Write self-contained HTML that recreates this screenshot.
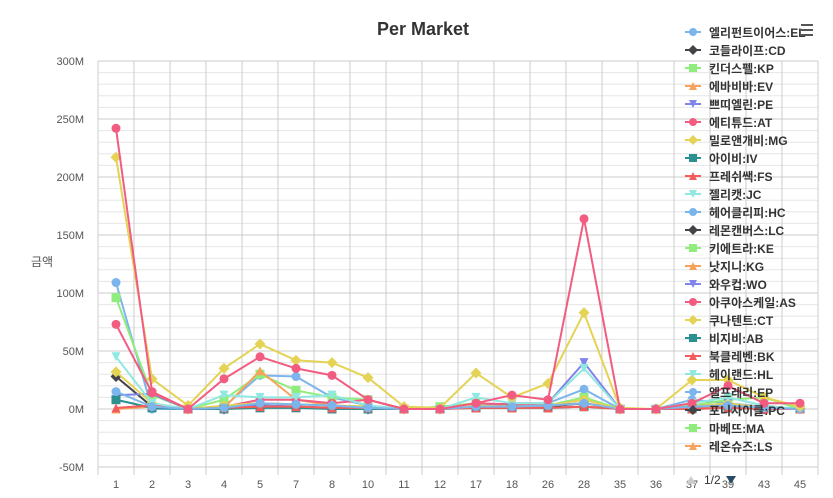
<!DOCTYPE html>
<html><head><meta charset="utf-8">
<style>
html,body{margin:0;padding:0;background:#fff;}
body{width:833px;height:493px;overflow:hidden;font-family:"Liberation Sans","Noto Sans CJK KR",sans-serif;}
</style></head>
<body>
<svg id="chart" width="833" height="493" xmlns="http://www.w3.org/2000/svg" font-family="Liberation Sans, Noto Sans CJK KR, sans-serif">
<text x="423" y="35" text-anchor="middle" font-size="18" font-weight="bold" fill="#333">Per Market</text>
<text x="42" y="266" text-anchor="middle" font-size="12" fill="#555">금액</text>
<g id="grid"></g><g id="series"></g><g id="legend"></g>
<g><rect x="801" y="24" width="12" height="2" fill="#555"/><rect x="801" y="29" width="12" height="2" fill="#555"/><rect x="801" y="34" width="12" height="2" fill="#555"/></g>
<g>
<path d="M686 484 L691 476 L696 484 Z" fill="#ccc"/>
<text x="704" y="484" font-size="12" fill="#333">1/2</text>
<path d="M726 476 L736 476 L731 484 Z" fill="#2a4b66"/>
</g>
</svg>
<script>
const categories=["1","2","3","4","5","7","8","10","11","12","17","18","26","28","35","36","37","39","43","45"];
const yTicks=[300,250,200,150,100,50,0,-50];
const legendNames=["엘리펀트이어스:EL","코들라이프:CD","킨더스펠:KP","에바비바:EV","쁘띠엘린:PE","에티튜드:AT","밀로앤개비:MG","아이비:IV","프레쉬쌕:FS","젤리캣:JC","헤어클리피:HC","레몬캔버스:LC","키에트라:KE","낫지니:KG","와우컵:WO","아쿠아스케일:AS","쿠나텐트:CT","비지비:AB","북클레벤:BK","헤이랜드:HL","엘프레리:EP","포니사이클:PC","마베뜨:MA","레온슈즈:LS","케이퍼랜드:KL"];
const colors=["#7cb5ec","#434348","#90ed7d","#f7a35c","#8085e9","#f15c80","#e4d354","#2b908f","#f45b5b","#91e8e1"];
const symbols=["circle","diamond","square","triangle","triangle-down"];
const sEL=[109,0,0,2,29,28,10,3,0,0,3,2,5,17,0,0,8,5,2,0];
const sCD=[28,2,0,0,3,2,1,0,0,0,2,3,2,5,0,0,0,2,0,0];
const sKP=[96,12,0,8,30,16,10,8,0,2,5,2,3,10,0,0,3,8,10,0];
const sEV=[0,2,0,1,33,8,3,2,0,0,1,1,3,5,0,0,1,3,1,0];
const sPE=[12,13,0,1,3,2,1,1,0,0,2,5,5,40,0,0,2,5,1,0];
const sAT=[73,14,0,2,8,8,5,8,0,0,5,4,3,5,0,0,2,3,2,0];
const sMG=[32,5,0,3,5,4,3,2,0,0,3,2,3,8,0,0,2,5,1,0];
const sIV=[8,1,0,0,1,1,0,0,0,0,1,1,1,2,0,0,0,1,0,0];
const sFS=[1,3,0,1,2,2,1,1,0,0,1,1,1,2,0,0,0,1,0,0];
const sJC=[45,5,0,12,10,10,12,3,0,0,10,5,5,35,0,0,5,10,3,0];
const sHC=[15,2,0,1,5,4,3,1,0,0,2,2,3,5,0,0,2,3,1,0];
const sAS=[242,15,0,26,45,35,29,8,0,0,5,12,8,164,0,0,5,20,5,5];
const sCT=[217,26,3,35,56,42,40,27,2,1,31,10,22,83,1,0,25,25,10,2];
const plotted=[[sEL,0],[sCD,1],[sKP,2],[sEV,3],[sPE,4],[sAT,5],[sMG,6],[sIV,7],[sFS,8],[sJC,9],[sHC,10],[sCT,16],[sAS,15]];
const L=98,R=818,T=61,ZERO=409,PX_PER_M=348/300;
const bw=(R-L)/categories.length;
function xPos(i){return L+bw*(i+0.5);}
function yPos(v){return ZERO-v*PX_PER_M;}
const NS="http://www.w3.org/2000/svg";
function el(tag,attrs,parent){const e=document.createElementNS(NS,tag);for(const k in attrs)e.setAttribute(k,attrs[k]);parent.appendChild(e);return e;}
const grid=document.getElementById('grid');
for(let v=300;v>=-50;v-=10){
  const g=el('line',{x1:L,x2:R,y1:yPos(v),y2:yPos(v),stroke:v%50===0?'#ccc':'#e6e6e6','stroke-width':1},grid);
  
  
}
yTicks.forEach(v=>{
  const t=el('text',{x:84,y:yPos(v)+4,'text-anchor':'end','font-size':11,fill:'#555'},grid);
  t.textContent=v===0?"0M":v+"M";
  
  
});
for(let i=0;i<=categories.length;i++){
  const x=L+bw*i;
  const g=el('line',{x1:x,x2:x,y1:T,y2:yPos(-50)+8,stroke:'#ccc','stroke-width':1},grid);
  
  
}
categories.forEach((c,i)=>{
  const t=el('text',{x:xPos(i),y:488,'text-anchor':'middle','font-size':11,fill:'#555'},grid);
  t.textContent=c;
  
  
});
function marker(sym,x,y,color,r,parent){
  let m;
  if(sym==="circle")m=el('circle',{cx:x,cy:y,r:r,fill:color},parent);
  else if(sym==="square")m=el('rect',{x:x-r,y:y-r,width:2*r,height:2*r,fill:color},parent);
  else if(sym==="diamond")m=el('path',{d:`M${x} ${y-r-1}L${x+r+1} ${y}L${x} ${y+r+1}L${x-r-1} ${y}Z`,fill:color},parent);
  else if(sym==="triangle")m=el('path',{d:`M${x} ${y-r}L${x+r} ${y+r}L${x-r} ${y+r}Z`,fill:color},parent);
  else m=el('path',{d:`M${x-r} ${y-r}L${x+r} ${y-r}L${x} ${y+r}Z`,fill:color},parent);
  return m;
}
const sg=document.getElementById('series');
plotted.forEach(([data,idx])=>{
  const color=colors[idx%10],sym=symbols[idx%5];
  const g=el('g',{},sg);
  
  
  const d=data.map((v,i)=>(i?'L':'M')+xPos(i)+' '+yPos(v)).join(' ');
  el('path',{d:d,fill:'none',stroke:color,'stroke-width':2},g);
  data.forEach((v,i)=>{
    const m=marker(sym,xPos(i),yPos(v),color,4.5,g);
    
    
  });
});
const lg=document.getElementById('legend');
legendNames.slice(0,24).forEach((n,i)=>{
  const y=32+i*18;
  const color=colors[i%10],sym=symbols[i%5];
  const g=el('g',{},lg);
  
  
  el('line',{x1:685,x2:701,y1:y,y2:y,stroke:color,'stroke-width':2},g);
  marker(sym,693,y,color,4,g);
  const t=el('text',{x:709,y:y+5,'font-size':12,'font-weight':'bold',fill:'#333'},g);
  t.textContent=n;
});
</script>
</body></html>
